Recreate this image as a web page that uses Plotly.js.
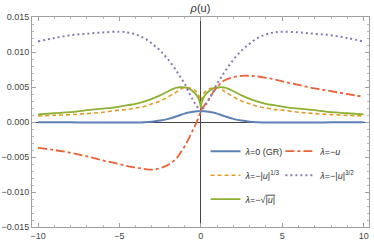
<!DOCTYPE html>
<html>
<head>
<meta charset="utf-8">
<script src="https://cdn.plot.ly/plotly-3.0.1.min.js"></script>
<style>html,body{margin:0;padding:0;background:#fff;}#chart{width:374px;height:241px;}</style>
</head>
<body>
<div id="chart"></div>
<script>
const uVals = [-10,-9,-8,-7,-6,-5,-4.5,-4,-3.5,-3,-2.5,-2,-1.5,-1.25,-1,-0.75,-0.5,-0.35,-0.2,-0.1,-0.03,0,0.03,0.1,0.2,0.35,0.5,0.75,1,1.25,1.5,2,2.5,3,3.5,4,4.5,5,6,7,8,9,10];

const rhoGR = [-0.00003,-0.00004,-0.00005,-0.00006,-0.00007,-0.00008,-0.00008,-0.00007,-0.00003,0.00005,0.0002,0.00045,0.0008,0.001,0.0012,0.00135,0.00145,0.0015,0.00153,0.00155,0.00155,0.00155,0.00155,0.00155,0.00153,0.0015,0.00145,0.00135,0.0012,0.001,0.0008,0.00045,0.0002,0.00005,-0.00003,-0.00007,-0.00008,-0.00008,-0.00007,-0.00006,-0.00005,-0.00004,-0.00003];

const rhoLin = [-0.0037,-0.0040,-0.0044,-0.0049,-0.0055,-0.0060,-0.0063,-0.0065,-0.0067,-0.0068,-0.0066,-0.0061,-0.0052,-0.0044,-0.0035,-0.0024,-0.0012,-0.0005,0.0003,0.0009,0.0013,0.0015,0.0017,0.0020,0.0023,0.0028,0.0033,0.0042,0.0050,0.0056,0.0060,0.0064,0.0066,0.0066,0.0065,0.0063,0.0061,0.0058,0.0053,0.0048,0.0044,0.0040,0.0036];

const rhoCbrt = [0.00086,0.00095,0.00105,0.0012,0.0014,0.0017,0.0018,0.0020,0.0022,0.0026,0.0030,0.0036,0.0043,0.0047,0.0049,0.0049,0.0047,0.0045,0.0041,0.0036,0.0029,0.0020,0.0029,0.0036,0.0041,0.0045,0.0047,0.0049,0.0049,0.0047,0.0043,0.0036,0.0030,0.0026,0.0022,0.0020,0.0018,0.0017,0.0014,0.0012,0.00105,0.00095,0.00086];

const rhoPow32 = [0.0115,0.0120,0.0124,0.0126,0.0128,0.0129,0.0128,0.0125,0.0120,0.0112,0.0102,0.0089,0.0073,0.0064,0.0055,0.0043,0.0032,0.0026,0.0021,0.0018,0.0016,0.0015,0.0016,0.0018,0.0021,0.0026,0.0032,0.0043,0.0055,0.0064,0.0073,0.0089,0.0102,0.0112,0.0120,0.0125,0.0128,0.0129,0.0128,0.0126,0.0124,0.0120,0.0115];

const rhoSqrt = [0.0011,0.00125,0.0014,0.0017,0.0019,0.0022,0.0024,0.0026,0.0029,0.0033,0.0038,0.0044,0.0049,0.00497,0.00495,0.0048,0.0044,0.0041,0.0036,0.0031,0.0026,0.0020,0.0026,0.0031,0.0036,0.0041,0.0044,0.0048,0.00495,0.00497,0.0049,0.0044,0.0038,0.0033,0.0029,0.0026,0.0024,0.0022,0.0019,0.0017,0.0014,0.00125,0.0011];

const names = [
  '<i>λ</i>=0 (GR)',
  '<i>λ</i>=−<i>u</i>',
  '<i>λ</i>=−|<i>u</i>|<sup>1/3</sup>',
  '<i>λ</i>=−|<i>u</i>|<sup>3/2</sup>',
  '<i>λ</i>=−√<span style="text-decoration:overline">|<i>u</i>|</span>'
];

const xTicks = [-10,-5,0,5,10];
const yTicks = [-0.015,-0.010,-0.005,0.000,0.005,0.010,0.015];

const FONT = 'Liberation Sans, Arial, sans-serif';

const traces = [
  {x:uVals, y:rhoGR, name:names[0], legend:'legend', legendgroup:'g1', line:{color:'#5E81B5', width:2, shape:'spline'}},
  {x:uVals, y:rhoCbrt, name:names[2], legend:'legend', legendgroup:'g2', line:{color:'#E19C24', width:1.6, dash:'4px,3px', shape:'spline'}},
  {x:uVals, y:rhoSqrt, name:names[4], legend:'legend', legendgroup:'g3', line:{color:'#8FB032', width:1.8, shape:'spline'}},
  {x:uVals, y:rhoLin, name:names[1], legend:'legend2', legendgroup:'g4', line:{color:'#EB6235', width:1.8, dash:'dashdot', shape:'spline'}},
  {x:uVals, y:rhoPow32, name:names[3], legend:'legend2', legendgroup:'g5', line:{color:'#8778B3', width:2, dash:'2px,3px', shape:'spline'}}
].map(t => Object.assign({type:'scatter', mode:'lines', hoverinfo:'skip'}, t));

const axisCommon = {
  showgrid:false, showline:true, linecolor:'#a0a0a0', linewidth:1, mirror:'ticks',
  ticks:'inside', ticklen:4, tickcolor:'#a0a0a0', tickwidth:1,
  tickfont:{family:FONT, size:9, color:'#444'},
  zeroline:true, zerolinecolor:'#444', zerolinewidth:1
};

const layout = {
  width:374, height:241,
  margin:{l:32, r:5, t:17, b:14},
  paper_bgcolor:'#fff', plot_bgcolor:'#fff',
  showlegend:true,
  title:{text:'<i>ρ</i>(u)', font:{family:FONT, size:11, color:'#333'}, x:0.5, xref:'paper', xanchor:'center', y:0.965, yref:'container', yanchor:'middle'},
  xaxis:Object.assign({}, axisCommon, {range:[-10.37,10.33], tickvals:xTicks, ticktext:xTicks.map(v=>v<0?'−'+Math.abs(v):String(v)),
    minor:{dtick:1, ticks:'inside', ticklen:2, tickcolor:'#b5b5b5'}}),
  yaxis:Object.assign({}, axisCommon, {range:[-0.015,0.015], tickvals:yTicks, tickformat:'.3f',
    minor:{dtick:0.001, ticks:'inside', ticklen:2, tickcolor:'#b5b5b5'}}),
  legend:{x:0.515, y:0.43, xanchor:'left', yanchor:'top', bgcolor:'rgba(0,0,0,0)', font:{family:FONT, size:9, color:'#333'}, tracegroupgap:5},
  legend2:{x:0.737, y:0.43, xanchor:'left', yanchor:'top', bgcolor:'rgba(0,0,0,0)', font:{family:FONT, size:9, color:'#333'}, tracegroupgap:5}
};

Plotly.newPlot('chart', traces, layout, {staticPlot:true, displayModeBar:false});
</script>
</body>
</html>
